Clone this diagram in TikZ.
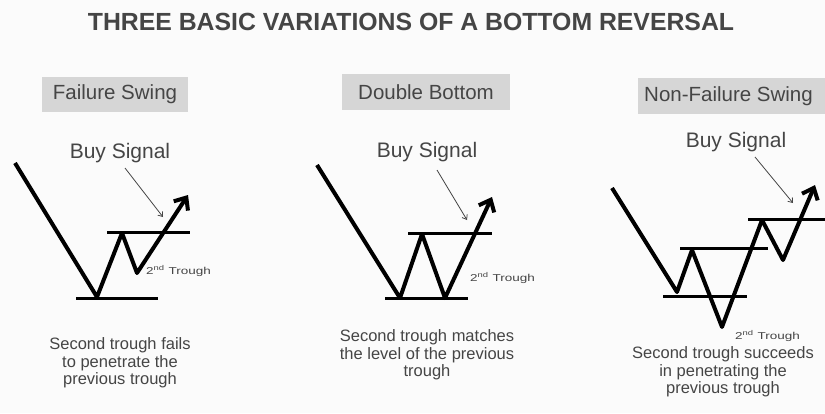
\documentclass[tikz,border=0pt]{standalone}
\usepackage{fontspec}
\setmainfont{Liberation Sans}
\usetikzlibrary{arrows.meta}
\definecolor{txt}{HTML}{454545}
\definecolor{boxfill}{HTML}{D6D6D6}
\definecolor{bg}{HTML}{FBFBFB}
\begin{document}
\begin{tikzpicture}[x=1pt,y=-1pt,
  title/.style={text=txt, font=\bfseries\fontsize{24.8}{24.8}\selectfont, inner sep=0pt},
  hdr/.style={fill=boxfill, text=txt, font=\fontsize{20.5}{20.5}\selectfont, inner sep=0pt},
  buy/.style={text=txt, font=\fontsize{21}{21}\selectfont, inner sep=0pt},
  captxt/.style={text=txt, font=\fontsize{16.5}{17.5}\selectfont, align=center, inner sep=0pt},
  small/.style={text=txt, font=\fontsize{10}{10}\selectfont, inner sep=0pt, anchor=west},
  zig/.style={line width=4pt, line join=round, -{Straight Barb[length=10pt,width=17pt]}},
  level/.style={line width=3pt},
  hint/.style={line width=0.8pt, draw=txt, -{Straight Barb[length=4pt,width=6pt]}}]
\fill[bg] (0,0) rectangle (825,413);
\useasboundingbox (0,0) rectangle (825,413);

\node[title] (title) at (411,22) {THREE BASIC VARIATIONS OF A BOTTOM REVERSAL};

% ---------- panel 1: failure swing
\node[hdr, minimum width=146pt, minimum height=35pt] (h1) at (115,94) {Failure Swing};
\node[buy] (b1) at (120,153) {Buy Signal};
\coordinate (a1) at (15,163);
\coordinate (a2) at (97,297);
\coordinate (a3) at (122,233);
\coordinate (a4) at (137,273);
\coordinate (a5) at (188,195);
\coordinate (l1a) at (76,298); \coordinate (l1b) at (158,298);
\coordinate (l2a) at (107,232); \coordinate (l2b) at (190,232);
\draw[level] (l1a) -- (l1b);
\draw[level] (l2a) -- (l2b);
\draw[zig] (a1) -- (a2) -- (a3) -- (a4) -- (a5);
\coordinate (s1a) at (125,168); \coordinate (s1b) at (163,217);
\draw[hint] (s1a) -- (s1b);
\node[small] (t1) at (146,271) {\scalebox{1.35}[1]{2\textsuperscript{nd} Trough}};
\node[captxt] (c1) at (120,363) {Second trough fails\\to penetrate the\\previous trough};

% ---------- panel 2: double bottom
\node[hdr, minimum width=168pt, minimum height=36pt] (h2) at (426,92) {Double Bottom};
\node[buy] (b2) at (427,152) {Buy Signal};
\coordinate (d1) at (317,165);
\coordinate (d2) at (400,298);
\coordinate (d3) at (422,234);
\coordinate (d4) at (445,298);
\coordinate (d5) at (492,197);
\coordinate (m1a) at (385,298); \coordinate (m1b) at (468,298);
\coordinate (m2a) at (408,233); \coordinate (m2b) at (492,233);
\draw[level] (m1a) -- (m1b);
\draw[level] (m2a) -- (m2b);
\draw[zig] (d1) -- (d2) -- (d3) -- (d4) -- (d5);
\coordinate (s2a) at (437,170); \coordinate (s2b) at (467,220);
\draw[hint] (s2a) -- (s2b);
\node[small] (t2) at (470,278) {\scalebox{1.35}[1]{2\textsuperscript{nd} Trough}};
\node[captxt] (c2) at (427,355) {Second trough matches\\the level of the previous\\trough};

% ---------- panel 3: non-failure swing
\fill[boxfill] (638,78) rectangle (826,114);
\node[hdr, fill=none, anchor=west] (h3) at (644,96) {Non-Failure Swing};
\node[buy] (b3) at (736,142) {Buy Signal};
\coordinate (n1) at (612,188);
\coordinate (n2) at (677,292);
\coordinate (n3) at (692,250);
\coordinate (n4) at (722,327);
\coordinate (n5) at (762,220);
\coordinate (n6) at (783,260);
\coordinate (n7) at (815,185);
\coordinate (p1a) at (663,296); \coordinate (p1b) at (747,296);
\coordinate (p2a) at (680,248); \coordinate (p2b) at (768,248);
\coordinate (p3a) at (748,219); \coordinate (p3b) at (826,219);
\draw[level] (p1a) -- (p1b);
\draw[level] (p2a) -- (p2b);
\draw[level] (p3a) -- (p3b);
\draw[zig] (n1) -- (n2) -- (n3) -- (n4) -- (n5) -- (n6) -- (n7);
\coordinate (s3a) at (755,157); \coordinate (s3b) at (793,203);
\draw[hint] (s3a) -- (s3b);
\node[small] (t3) at (735,336) {\scalebox{1.35}[1]{2\textsuperscript{nd} Trough}};
\node[captxt] (c3) at (723,372) {Second trough succeeds\\in penetrating the\\previous trough};
\end{tikzpicture}
\end{document}
